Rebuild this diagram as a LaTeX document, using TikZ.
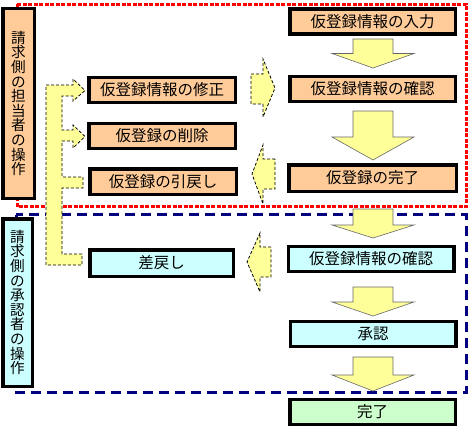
\documentclass[tikz,border=0pt]{standalone}
\usepackage{fontspec}
\setmainfont{Noto Sans CJK JP}
\usetikzlibrary{calc}
\definecolor{peach}{HTML}{FFCC99}
\definecolor{lcyan}{HTML}{CCFFFF}
\definecolor{lgreen}{HTML}{CCFFCC}
\definecolor{lyellow}{HTML}{FFFF99}
\definecolor{navyb}{HTML}{000080}
\tikzset{
  box/.style={draw=black, line width=3.5pt, inner sep=0pt, minimum width=165.5pt, minimum height=25pt, font=\fontsize{15.5}{16}\selectfont},
  lbox/.style={box, minimum width=146.5pt},
  tbox/.style={draw=black, line width=3.5pt, inner sep=0pt, align=center, font=\fontsize{14.6}{14.6}\selectfont},
  downarr/.style={fill=lyellow, draw=black!60, line width=0.6pt, line join=miter},
  dasharr/.style={fill=lyellow, draw=black, line width=0.8pt, dash pattern=on 3pt off 2pt},
  redframe/.style={draw=red, line width=3pt, dash pattern=on 4pt off 1.5pt},
  blueframe/.style={draw=navyb, line width=3pt, dash pattern=on 10pt off 6pt},
}
\newcommand{\dnarrow}[4]{% x center, top, neck, tip
  \draw[downarr] (#1-20,#2) -- (#1+20,#2) -- (#1+20,#3) -- (#1+41,#3) -- (#1,#4) -- (#1-41,#3) -- (#1-20,#3) -- cycle;}
\begin{document}
\begin{tikzpicture}[x=1pt,y=-1pt]
\useasboundingbox (0,0) rectangle (470,428);
% frames
\draw[redframe] (17,4.5) rectangle (466,206.5);
\draw[blueframe] (16,214.5) rectangle (466,392);
% tall boxes
\node[tbox, fill=peach, minimum width=31.5pt, minimum height=189.5pt] (t1) at (18.5,103.5) {請\\求\\側\\の\\担\\当\\者\\の\\操\\作};
\node[tbox, fill=lcyan, minimum width=29.5pt, minimum height=167.5pt] (t2) at (17.5,302.5) {請\\求\\側\\の\\承\\認\\者\\の\\操\\作};
% right column
\node[box, fill=peach] (b1) at (372.5,21.5) {仮登録情報の入力};
\node[box, fill=peach] (b2) at (372.5,89) {仮登録情報の確認};
\node[box, fill=peach, minimum width=167.5pt, minimum height=26.5pt] (b3) at (372.5,178) {仮登録の完了};
\node[box, fill=lcyan] (b4) at (371,259) {仮登録情報の確認};
\node[box, fill=lcyan] (b5) at (373,334) {承認};
\node[box, fill=lgreen] (b6) at (372.5,412) {完了};
% left column
\node[lbox, fill=peach] (l1) at (162,90) {仮登録情報の修正};
\node[lbox, fill=peach] (l2) at (162,136) {仮登録の削除};
\node[lbox, fill=peach, minimum height=25.5pt] (l3) at (163,181.5) {仮登録の引戻し};
\node[lbox, fill=lcyan, minimum width=143.5pt, minimum height=26.5pt] (l4) at (161.5,263) {差戻し};
% down arrows
\dnarrow{373}{39}{53.5}{68}
\dnarrow{373}{111}{137}{160}
\dnarrow{373}{209}{225}{238}
\dnarrow{373}{287}{302}{316}
\dnarrow{373}{357}{375}{391}
% dashed side arrows
\draw[dasharr] (251,74) -- (263,74) -- (263,59) -- (275,88) -- (263,117) -- (263,104) -- (251,104) -- cycle;
\draw[dasharr] (275,159) -- (263,159) -- (263,145) -- (252,174) -- (263,204) -- (263,189) -- (275,189) -- cycle;
\draw[dasharr] (271,247) -- (260,247) -- (260,233) -- (247,262) -- (260,292) -- (260,277) -- (271,277) -- cycle;
% bracket arrow
\draw[dasharr] (46,85) -- (73,85) -- (73,79) -- (85,90.5) -- (73,101) -- (73,96) -- (62,96)
  -- (62,130) -- (73,130) -- (73,125) -- (85,136.5) -- (73,148) -- (73,141) -- (62,141)
  -- (62,177) -- (83,177) -- (83,188) -- (62,188)
  -- (62,254) -- (82,254) -- (82,265) -- (46,265) -- cycle;
\end{tikzpicture}
\end{document}
